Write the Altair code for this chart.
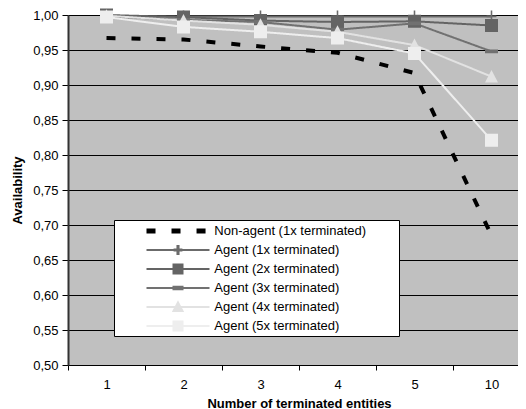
import altair as alt
import pandas as pd

categories = ["1", "2", "3", "4", "5", "10"]
series_names = [
    "Non-agent (1x terminated)",
    "Agent (1x terminated)",
    "Agent (2x terminated)",
    "Agent (3x terminated)",
    "Agent (4x terminated)",
    "Agent (5x terminated)",
]
non_agent = [0.967, 0.965, 0.955, 0.946, 0.917, 0.685]
agent_1x = [0.998, 0.998, 0.998, 0.998, 0.998, 0.998]
agent_2x = [1.000, 0.997, 0.992, 0.990, 0.991, 0.985]
agent_3x = [0.998, 0.993, 0.990, 0.979, 0.988, 0.948]
agent_4x = [0.999, 0.992, 0.986, 0.976, 0.957, 0.912]
agent_5x = [0.997, 0.983, 0.976, 0.967, 0.945, 0.821]
series_values = [non_agent, agent_1x, agent_2x, agent_3x, agent_4x, agent_5x]

colors = ["#000000", "#6b6b6b", "#646464", "#717171", "#e2e2e2", "#eeeeee"]
# symbol paths: filled marker part (+ a stroked legend line segment, which the
# stroke-less plot markers do not draw); trailing move-tos only set the extent
LINE = "M-3.5,0H3.5"
EXT = "M0,-0.5M0,0.5"
symbol_paths = [
    "M-3.39,-0.167H-2.61V0.167H-3.39ZM-0.61,-0.167H0.17V0.167H-0.61ZM2.17,-0.167H2.95V0.167H2.17ZM24.0,0" + EXT,
    LINE + "M-0.06,-0.45H0.06V0.45H-0.06ZM-0.38,-0.06H0.38V0.06H-0.38Z" + EXT,
    LINE + "M-0.5,-0.5H0.5V0.5H-0.5Z" + EXT,
    LINE + "M-0.5,-0.15H0.5V0.15H-0.5Z" + EXT,
    LINE + "M0,-0.5L0.5,0.45H-0.5Z" + EXT,
    LINE + "M-0.5,-0.5H0.5V0.5H-0.5Z" + EXT,
]
y_ticks = [0.50, 0.55, 0.60, 0.65, 0.70, 0.75, 0.80, 0.85, 0.90, 0.95, 1.00]

rows = []
for name, vals in zip(series_names, series_values):
    for c, v in zip(categories, vals):
        rows.append({"cat": c, "series": name, "value": v})
df = pd.DataFrame(rows)

FONT = "Liberation Sans"
FS = 13

legend = alt.Legend(
    title=None,
    orient="none",
    legendX=46,
    legendY=205,
    fillColor="white",
    strokeColor="black",
    padding=1,
    symbolSize=324,
    symbolStrokeWidth=2,
    symbolOffset=53,
    labelOffset=26.3,
    rowPadding=0,
    labelFont=FONT,
    labelFontSize=FS,
    labelColor="black",
    labelLimit=400,
)

x_enc = alt.X(
    "cat:O",
    sort=categories,
    scale=alt.Scale(type="band", paddingInner=0, paddingOuter=0, range=[0, 462]),
    axis=alt.Axis(
        title="Number of terminated entities",
        titleFont=FONT,
        titleFontSize=FS,
        titleFontWeight="bold",
        titleColor="black",
        titlePadding=6,
        labelFont=FONT,
        labelFontSize=FS,
        labelColor="black",
        labelAngle=0,
        labelPadding=8,
        tickBand="extent",
        tickSize=5,
        tickColor="black",
        domainColor="black",
        domainWidth=1,
        grid=False,
    ),
)
y_enc = alt.Y(
    "value:Q",
    scale=alt.Scale(domain=[0.5, 1.0], nice=False, zero=False),
    axis=alt.Axis(
        title="Availability",
        titleFont=FONT,
        titleFontSize=FS,
        titleFontWeight="bold",
        titleColor="black",
        titlePadding=8,
        values=y_ticks,
        labelExpr="replace(format(datum.value, '.2f'), '.', ',')",
        labelFont=FONT,
        labelFontSize=FS,
        labelColor="black",
        labelPadding=4,
        tickSize=6,
        tickColor="black",
        domainColor="#333333",
        domainWidth=2,
        grid=True,
        gridColor="black",
        gridWidth=1,
    ),
)
color_enc = alt.Color(
    "series:N",
    sort=series_names,
    scale=alt.Scale(domain=series_names, range=colors),
    legend=legend,
)
shape_enc = alt.Shape(
    "series:N",
    sort=series_names,
    scale=alt.Scale(domain=series_names, range=symbol_paths),
    legend=legend,
)

is_nonagent = alt.datum.series == series_names[0]

lines = alt.Chart().mark_line(strokeCap="butt", strokeJoin="miter").encode(
    x=x_enc,
    y=y_enc,
    color=color_enc,
    strokeDash=alt.when(is_nonagent).then(alt.value([9, 16])).otherwise(alt.value([1, 0])),
    strokeWidth=alt.when(is_nonagent).then(alt.value(4)).otherwise(alt.value(2)),
)

points = alt.Chart().mark_point(filled=True, size=676, opacity=1).encode(
    x=x_enc,
    y=y_enc,
    color=color_enc,
    shape=shape_enc,
).transform_filter(alt.datum.series != series_names[0])

chart = (
    alt.layer(lines, points, data=df)
    .properties(
        width=450,
        height=350,
        autosize=alt.AutoSizeParams(type="none"),
        padding={"left": 60, "top": 7, "right": 0, "bottom": 44},
        background="white",
    )
    .configure_view(fill="#c0c0c0", stroke=None)
)

chart.save("out.html", embed_options={"renderer": "svg", "actions": False})
